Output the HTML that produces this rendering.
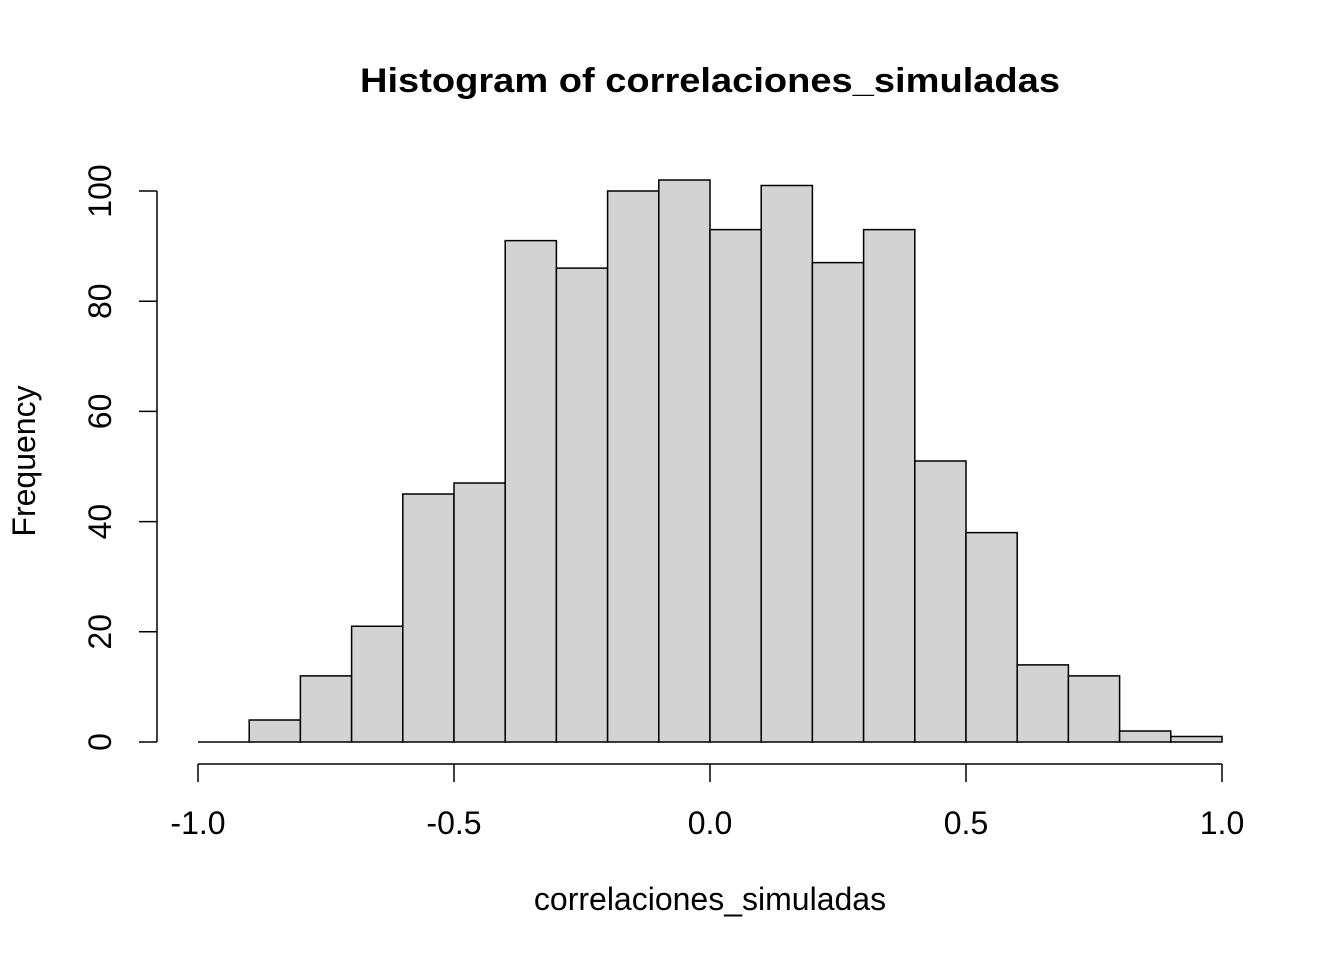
<!DOCTYPE html>
<html><head><meta charset="utf-8"><style>
html,body{margin:0;padding:0;background:#fff;}
svg text{font-family:"Liberation Sans",Arial,sans-serif;fill:#000;}
</style></head><body>
<svg id="chart" width="1344" height="960" xmlns="http://www.w3.org/2000/svg">
<text x="710" y="92" text-anchor="middle" font-size="34" font-weight="bold" textLength="700" lengthAdjust="spacingAndGlyphs">Histogram of correlaciones_simuladas</text>
<text x="710" y="910" text-anchor="middle" font-size="32">correlaciones_simuladas</text>
<text transform="translate(35,461) rotate(-90)" text-anchor="middle" font-size="32">Frequency</text>
<g id="bars"></g>
<g id="xaxis"></g>
<g id="yaxis"></g>
</svg>
<script>
const binStarts = [-1.0,-0.9,-0.8,-0.7,-0.6,-0.5,-0.4,-0.3,-0.2,-0.1,0.0,0.1,0.2,0.3,0.4,0.5,0.6,0.7,0.8,0.9];
const counts = [0,4,12,21,45,47,91,86,100,102,93,101,87,93,51,38,14,12,2,1];
const binWidth = 0.1;
const xTicks = [-1.0,-0.5,0.0,0.5,1.0];
const xTickLabels = ["-1.0","-0.5","0.0","0.5","1.0"];
const yTicks = [0,20,40,60,80,100];
const yTickLabels = ["0","20","40","60","80","100"];

const NS="http://www.w3.org/2000/svg";
const xs = v => 198 + (v + 1) * 512;
const ys = v => 742 - v * 5.51;
function mk(tag, attrs, parent){const e=document.createElementNS(NS,tag);for(const k in attrs)e.setAttribute(k,attrs[k]);parent.appendChild(e);return e;}

const bars=document.getElementById('bars');
binStarts.forEach((b,i)=>{
  const x0=xs(b), x1=xs(b+binWidth), y=ys(counts[i]), y0=ys(0);
  const r=mk('path',{d:`M${x0},${y0}V${y}H${x1}V${y0}Z`,fill:'#d3d3d3',stroke:'#000','stroke-width':1.5},bars);
  
  
});

const xa=document.getElementById('xaxis');
const xl=mk('line',{x1:xs(xTicks[0]),x2:xs(xTicks[xTicks.length-1]),y1:764,y2:764,stroke:'#000','stroke-width':1.5},xa);


xTicks.forEach((t,i)=>{
  const tk=mk('line',{x1:xs(t),x2:xs(t),y1:764,y2:782,stroke:'#000','stroke-width':1.5},xa);
  
  
  const tx=mk('text',{x:xs(t),y:834,'text-anchor':'middle','font-size':32},xa);
  tx.textContent=xTickLabels[i];
  
  
});

const ya=document.getElementById('yaxis');
const yl=mk('line',{x1:157,x2:157,y1:ys(yTicks[0]),y2:ys(yTicks[yTicks.length-1]),stroke:'#000','stroke-width':1.5},ya);


yTicks.forEach((t,i)=>{
  const tk=mk('line',{x1:139,x2:157,y1:ys(t),y2:ys(t),stroke:'#000','stroke-width':1.5},ya);
  
  
  const tx=mk('text',{transform:`translate(111,${ys(t)}) rotate(-90)`,'text-anchor':'middle','font-size':32},ya);
  tx.textContent=yTickLabels[i];
  
  
});
</script>
</body></html>
